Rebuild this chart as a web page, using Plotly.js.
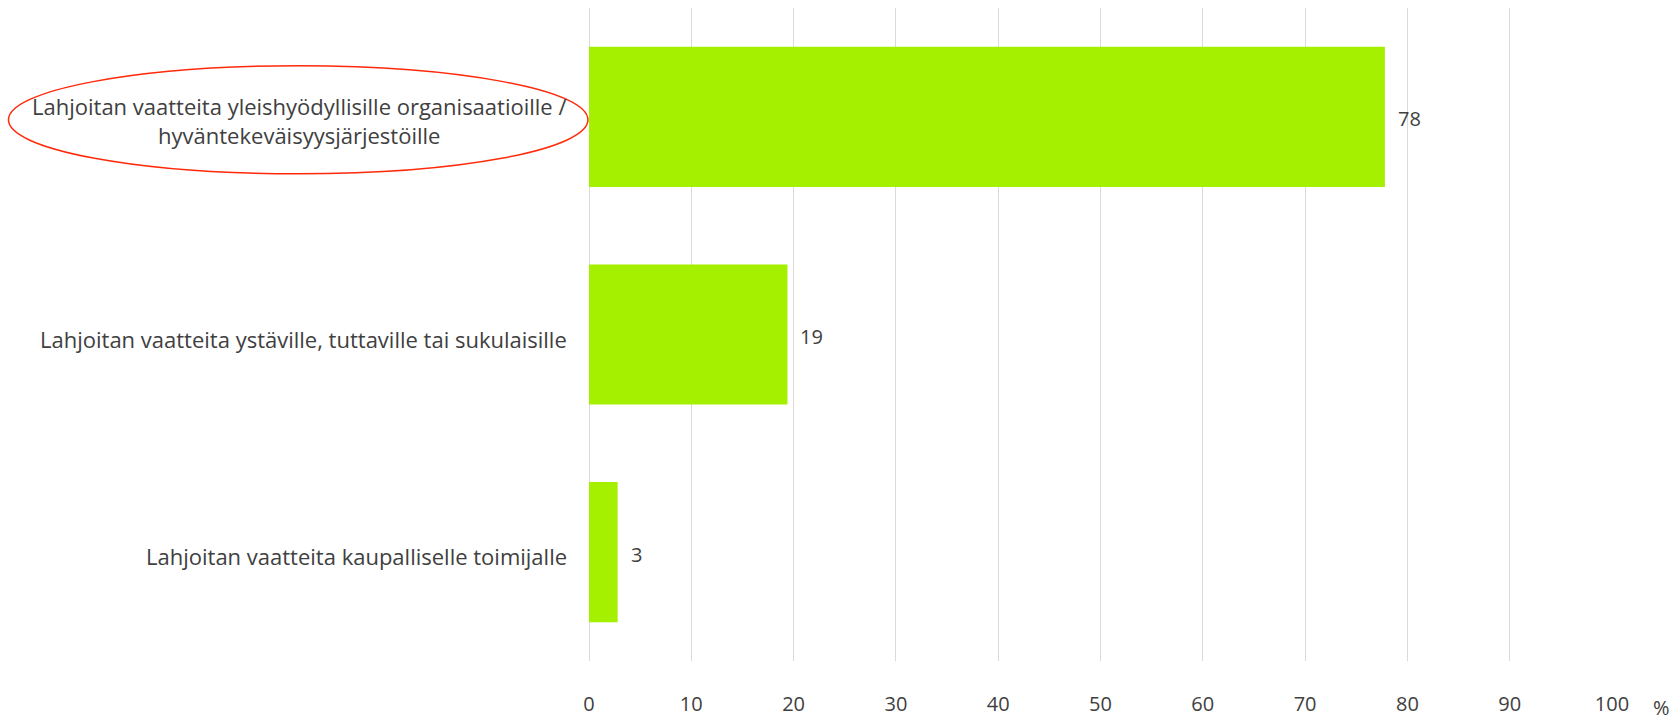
<!DOCTYPE html>
<html>
<head>
<meta charset="utf-8">
<script src="https://cdn.plot.ly/plotly-3.0.1.min.js"></script>
<style>
  html, body { margin: 0; padding: 0; background: #ffffff; }
  #chart { width: 1677px; height: 720px; }
</style>
</head>
<body>
<div id="chart"></div>
<script>
const categories = [
  "Lahjoitan vaatteita yleishyödyllisille organisaatioille /<br>hyväntekeväisyysjärjestöille",
  "Lahjoitan vaatteita ystäville, tuttaville tai sukulaisille",
  "Lahjoitan vaatteita kaupalliselle toimijalle"
];
const values = [77.8, 19.4, 2.8];
const valueLabels = ["78", "19", "3"];
const xTicks = [0, 10, 20, 30, 40, 50, 60, 70, 80, 90, 100];
const unitLabel = "%";

const textColor = "#404040";
const fontFamily = "'Open Sans', Lato, sans-serif";

const trace = {
  type: "bar",
  orientation: "h",
  y: categories,
  x: values,
  marker: { color: "#a5f000" },
  hoverinfo: "x+y"
};

const annotations = [];
categories.forEach((c, i) => {
  annotations.push({
    xref: "paper", yref: "y",
    x: 0, y: c,
    text: c,
    showarrow: false,
    xanchor: "right", yanchor: "middle",
    align: "center",
    xshift: -20, yshift: -4,
    font: { family: fontFamily, size: 22, color: textColor }
  });
  annotations.push({
    xref: "x", yref: "y",
    x: values[i], y: c,
    text: valueLabels[i],
    showarrow: false,
    xanchor: "left", yanchor: "middle",
    xshift: 11, yshift: -2,
    font: { family: fontFamily, size: 20, color: textColor }
  });
});
annotations.push({
  xref: "paper", yref: "paper",
  x: 1.048, y: 0,
  text: unitLabel,
  showarrow: false,
  xanchor: "center", yanchor: "middle",
  yshift: -46,
  font: { family: fontFamily, size: 20, color: textColor }
});

const layout = {
  width: 1677, height: 720,
  margin: { l: 589, r: 65, t: 8, b: 59 },
  paper_bgcolor: "#ffffff",
  plot_bgcolor: "#ffffff",
  showlegend: false,
  bargap: 0.356,
  font: { family: fontFamily, size: 20, color: textColor },
  xaxis: {
    range: [0, 100],
    tickvals: xTicks,
    ticktext: xTicks.map(String),
    showgrid: true,
    gridcolor: "#d9d9d9",
    gridwidth: 1,
    zeroline: true,
    zerolinecolor: "#d9d9d9",
    zerolinewidth: 1,
    showline: false,
    ticks: "",
    ticklabelstandoff: 29,
    tickfont: { family: fontFamily, size: 20, color: textColor },
    fixedrange: true
  },
  yaxis: {
    type: "category",
    range: [2.5, -0.5],
    showticklabels: false,
    showgrid: false,
    zeroline: false,
    showline: false,
    ticks: "",
    fixedrange: true
  },
  annotations: annotations,
  shapes: [{
    type: "circle",
    xref: "paper", yref: "paper",
    x0: -0.5675, x1: -0.001,
    y0: 0.746, y1: 0.9115,
    line: { color: "#ff2a0a", width: 1.5 },
    fillcolor: "rgba(0,0,0,0)"
  }]
};

Plotly.newPlot("chart", [trace], layout, { displayModeBar: false, staticPlot: true });
</script>
</body>
</html>
